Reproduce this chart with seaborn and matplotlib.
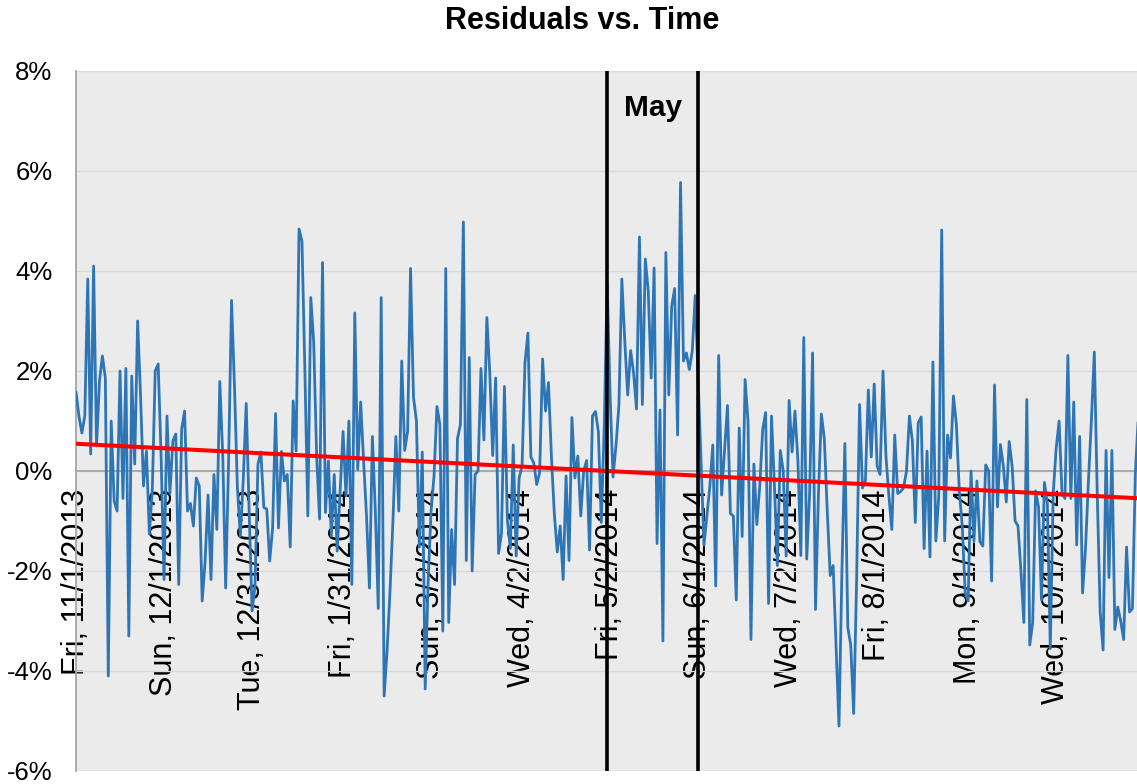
import matplotlib
matplotlib.use("Agg")
import matplotlib.pyplot as plt
import matplotlib.dates as mdates
import pandas as pd
import seaborn as sns

# Daily residuals (%), one list per month, starting Fri 11/1/2013
nov_2013 = [1.58, 1.1, 0.76, 1.1, 3.84, 0.34, 4.1, 0.5, 1.8, 2.3,
            1.86, -4.1, 1.0, -0.6, -0.8, 2.0, -0.55, 2.05, -3.3, 1.9,
            0.14, 3.0, 1.5, -0.3, 0.4, -1.26, -0.38, 2.0, 2.14, 0.3]
dec_2013 = [-2.17, 1.1, -0.45, 0.6, 0.74, -2.27, 0.83, 1.2, -0.8, -0.65,
            -1.1, -0.14, -0.3, -2.6, -1.8, -0.48, -2.17, -0.07, -1.17, 1.79,
            0.34, -2.34, 0.2, 3.41, 1.7, -0.34, -1.3, -0.17, 1.35, -0.8, -2.8]
jan_2014 = [-2.3, 0.14, 0.38, -0.73, -0.76, -1.8, -1.14, 1.15, -1.14, 0.39,
            -0.2, -0.07, -1.52, 1.4, 0.4, 4.84, 4.6, 2.0, -0.9, 3.47,
            2.58, 0.3, -0.96, 4.17, -0.83, 0.2, -1.3, -0.07, -1.6, -0.4, 0.79]
feb_2014 = [-0.5, 1.0, -2.27, 3.16, 0.03, 1.38, 0.2, -0.9, -2.34, 0.69,
            -0.8, -2.75, 3.47, -4.5, -3.6, -2.4, -1.0, 0.69, -0.8, 2.2,
            0.41, 0.79, 4.05, 1.48, 1.0, -1.52, 0.38, -4.36]
mar_2014 = [-2.2, -0.8, -0.1, 1.29, 0.93, -3.2, 4.05, -3.03, -1.17, -2.27,
            0.65, 0.93, 4.98, -1.79, 2.27, -2.0, -0.07, 0.0, 2.05, 0.62,
            3.07, 1.96, 0.31, 1.86, -1.65, -1.24, 1.69, -0.99, -1.55, 0.52, -1.7]
apr_2014 = [-0.14, 0.1, 2.17, 2.76, 0.28, 0.16, -0.27, -0.03, 2.24, 1.2,
            1.77, 0.3, -0.86, -1.62, -1.1, -2.17, -0.1, -1.79, 1.07, -0.14,
            0.3, -0.9, 0.0, 0.21, -1.58, 1.1, 1.19, 0.79, -1.03, 0.9]
may_2014 = [3.79, 1.5, -0.12, 0.5, 1.31, 3.84, 2.6, 1.52, 2.41, 1.96,
            1.24, 4.68, 1.33, 4.24, 3.6, 1.86, 4.06, -1.45, 1.22, -3.4,
            4.37, 1.52, 3.3, 3.65, 0.72, 5.77, 2.2, 2.36, 2.03, 2.4, 3.51]
jun_2014 = [1.85, 0.19, -1.48, -0.9, -0.3, 0.52, -2.3, 2.31, -0.48, 0.4,
            1.31, -0.85, -0.9, -2.58, 0.86, -1.31, 1.83, 1.0, -3.37, 0.14,
            -1.07, -0.3, 0.83, 1.17, -2.65, 1.1, -0.3, -1.89, 0.41, 0.0]
jul_2014 = [-1.7, 1.41, 0.38, 1.2, 0.2, -1.69, 2.67, -1.76, -0.45, 2.36,
            -2.77, -0.45, 1.14, 0.65, -0.8, -2.09, -1.89, -3.5, -5.1, -2.0,
            0.55, -3.13, -3.48, -4.85, -2.2, 1.33, -0.34, -0.2, 1.62, 0.28, 1.74]
aug_2014 = [0.1, -0.07, 2.0, 0.3, -0.5, -1.17, 0.72, -0.45, -0.41, -0.34,
            0.0, 1.1, 0.6, -1.03, 0.96, 1.08, -1.55, 0.4, -1.72, 2.18,
            -1.4, -0.5, 4.82, -1.4, 0.72, 0.26, 1.5, 0.93, -0.4, -1.1, -2.44]
sep_2014 = [-2.6, 0.0, -1.4, -0.2, -1.41, -1.5, 0.12, 0.0, -2.2, 1.72,
            -0.72, 0.53, 0.1, -0.62, 0.59, 0.1, -1.0, -1.1, -2.0, -3.03,
            1.43, -3.48, -3.03, -0.4, -0.72, -2.58, -0.23, -0.65, -3.55, -0.45]
oct_2014 = [0.45, 1.0, -0.45, -0.55, 2.31, -0.55, 1.38, -1.48, 0.69, -2.44,
            -1.55, -0.2, 1.0, 2.38, -0.45, -2.82, -3.58, 0.41, -2.13, 0.41,
            -3.17, -2.72, -3.0, -3.37, -1.52, -2.82, -2.75, -0.03, 1.1]

# Linear trend of the residuals (start and end of the fitted line)
trend_dates = ["2013-11-01", "2014-10-29"]
trend_values = [0.545, -0.545]

# Axis tick dates and the boundaries of May
tick_dates = ["2013-11-01", "2013-12-01", "2013-12-31", "2014-01-31",
              "2014-03-02", "2014-04-02", "2014-05-02", "2014-06-01",
              "2014-07-02", "2014-08-01", "2014-09-01", "2014-10-01"]
may_bounds = ["2014-05-01", "2014-06-01"]
y_ticks = [-6, -4, -2, 0, 2, 4, 6, 8]

start = pd.Timestamp("2013-11-01")
residuals = (nov_2013 + dec_2013 + jan_2014 + feb_2014 + mar_2014 + apr_2014 +
             may_2014 + jun_2014 + jul_2014 + aug_2014 + sep_2014 + oct_2014)
df = pd.DataFrame({"date": pd.date_range(start, periods=len(residuals), freq="D"),
                   "residual": residuals})
trend = pd.DataFrame({"date": pd.to_datetime(trend_dates), "residual": trend_values})
ticks = pd.to_datetime(tick_dates)
bounds = pd.to_datetime(may_bounds)

sns.set_style("white")
plt.rcParams["font.family"] = ["Liberation Sans", "DejaVu Sans"]
plt.rcParams["text.color"] = "black"
plt.rcParams["xtick.color"] = "black"
plt.rcParams["ytick.color"] = "black"

W, H = 1137, 784
fig = plt.figure(figsize=(W / 100, H / 100), dpi=100)
ax = fig.add_axes([76 / W, 13 / H, 1061 / W, 700 / H])
ax.set_facecolor("#EBEBEB")
ax.set_axisbelow(True)

sns.lineplot(data=df, x="date", y="residual", ax=ax, color="#2E75B6",
             linewidth=2.0, zorder=3)
sns.lineplot(data=trend, x="date", y="residual", ax=ax, color="#FF0000",
             linewidth=2.9, zorder=4)
for b in bounds:
    ax.axvline(b, color="black", linewidth=2.6, zorder=5)

# spines first: moving the bottom spine resets the tick setup
for side in ("top", "right"):
    ax.spines[side].set_visible(False)
ax.spines["bottom"].set_position(("data", 0))
for side in ("left", "bottom"):
    ax.spines[side].set_color("#A6A6A6")
    ax.spines[side].set_linewidth(1.3)
    ax.spines[side].set_zorder(0.6)

x0 = mdates.date2num(start)
ax.set_xlim(x0, x0 + 361.55)
ax.set_ylim(-6, 8)

mid_may = (mdates.date2num(bounds[0]) + mdates.date2num(bounds[1])) / 2
ax.text(mid_may, 7.25, "May", ha="center", va="center", fontsize=21.5,
        fontweight="bold", color="black", zorder=6)

# y axis: percent labels, horizontal grid
ax.set_yticks(y_ticks)
ax.set_yticklabels([f"{v}%" for v in y_ticks], fontsize=18.5, color="black")
ax.tick_params(axis="y", length=0, pad=17)
ax.yaxis.grid(True, color="#D9D9D9", linewidth=1.0)
ax.xaxis.grid(False)

# x axis sits on the zero line with rotated date labels
ax.set_xticks(mdates.date2num(ticks))
ax.set_xticklabels([f"{d:%a}, {d.month}/{d.day}/{d.year}" for d in ticks],
                   rotation=90, fontsize=22, color="black")
ax.tick_params(axis="x", direction="out", length=6, width=1.2,
               color="#A6A6A6", pad=7)

ax.set_xlabel("")
ax.set_ylabel("")

fig.text(582 / W, 1 - 21 / H, "Residuals vs. Time", ha="center", va="center",
         fontsize=22, fontweight="bold", color="black")

fig.savefig("out.png", dpi=100)
